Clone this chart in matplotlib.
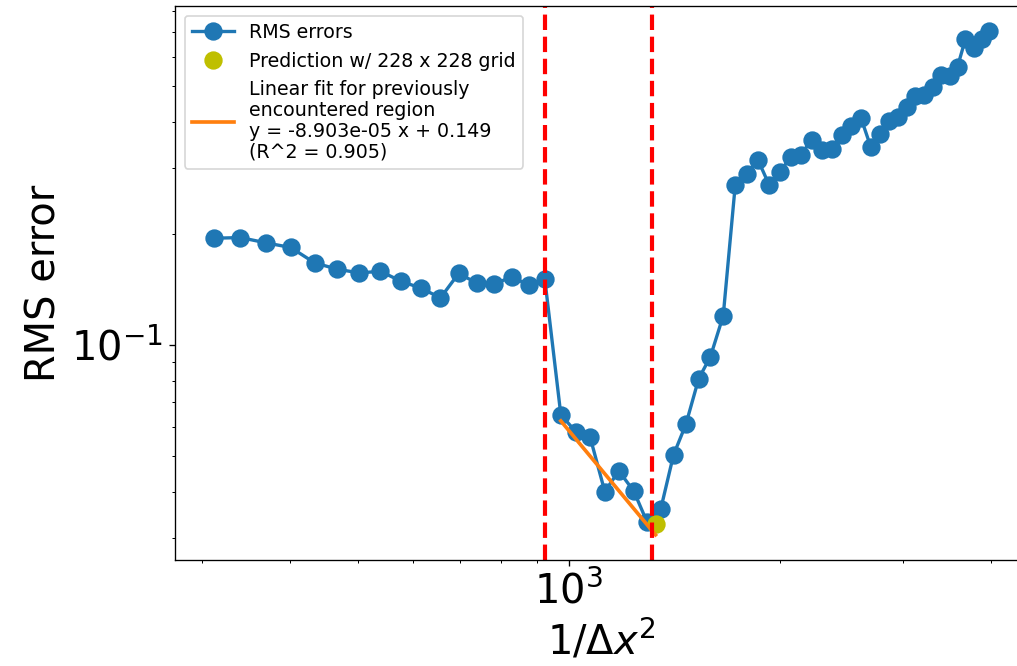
import numpy as np
import matplotlib
matplotlib.use("Agg")
import matplotlib.pyplot as plt

# grid resolution 1/dx^2 and the RMS error measured on each grid
inv_dx2 = [311.6, 340.1, 370.5, 401.2, 434.1, 467.7, 502.8, 538.5, 576.6, 615.8,
           656.1, 696.7, 739.2, 783.4, 829.2, 876.1, 924.2, 974.1, 1024.6, 1072.8,
           1125.5, 1178.6, 1238.1, 1293.7, 1352.8, 1410.7, 1468.8, 1532.2, 1592.7, 1660.7,
           1727.5, 1792.8, 1860.5, 1930.2, 2000.0, 2073.6, 2145.5, 2219.4, 2293.7, 2372.7,
           2453.3, 2529.0, 2611.6, 2696.6, 2777.3, 2861.7, 2951.2, 3035.3, 3118.2, 3213.7,
           3302.3, 3392.5, 3492.2, 3585.1, 3678.1, 3778.5, 3883.5, 3978.6]
rms_err = [0.1943, 0.1951, 0.1887, 0.1834, 0.1666, 0.1602, 0.1565, 0.1582, 0.1486, 0.1423,
           0.1340, 0.1562, 0.1468, 0.1459, 0.1530, 0.1450, 0.1507, 0.0648, 0.0580, 0.0562,
           0.0401, 0.0456, 0.0402, 0.0331, 0.0360, 0.0504, 0.0609, 0.0810, 0.0930, 0.1199,
           0.2702, 0.2902, 0.3172, 0.2714, 0.2935, 0.3227, 0.3273, 0.3593, 0.3374, 0.3391,
           0.3699, 0.3900, 0.4104, 0.3429, 0.3729, 0.4028, 0.4133, 0.4412, 0.4710, 0.4751,
           0.4994, 0.5358, 0.5348, 0.5655, 0.6702, 0.6345, 0.6702, 0.7057]

# first point of the previously encountered region (start of the fit line)
fit_start = 17
slope, intercept, r2 = -8.903e-05, 0.149, 0.905

# predicted point for the 228 x 228 grid
pred_x, pred_y = 1329.6, 0.0327

# boundaries of the previously encountered region
region_bounds = [925.0, 1316.0]

fig = plt.figure(figsize=(1018 / 120, 666 / 120), dpi=120)
ax = fig.add_axes([175 / 1018, 106 / 666, (1028 - 175) / 1018, (560 - 6) / 666])

ax.plot(inv_dx2, rms_err, "o-", color="tab:blue", lw=2, ms=10, label="RMS errors")
ax.plot(pred_x, pred_y, "o", color="y", ms=10, label="Prediction w/ 228 x 228 grid")

# fit line from the start of the region out to the predicted grid
fit_x = np.array([inv_dx2[fit_start], pred_x])
fit_y = slope * fit_x + intercept
ax.plot(fit_x, fit_y, "-", color="tab:orange", lw=2.2,
        label="Linear fit for previously\nencountered region\n"
              f"y = {slope:.3e} x + {intercept:.3f}\n(R^2 = {r2:.3f})")

for xb in region_bounds:
    ax.axvline(xb, color="r", ls="--", lw=2.5)

ax.set_xscale("log")
ax.set_yscale("log")
ax.set_xlabel(r"$1/\Delta x^2$", fontsize=24)
ax.set_ylabel("RMS error", fontsize=24)
ax.tick_params(axis="both", which="major", labelsize=24)
leg = ax.legend(loc="upper left", fontsize=11.4, handlelength=2.2)
for t in leg.get_texts():
    t.set_linespacing(1.12)

fig.savefig("out.png", dpi=120)
